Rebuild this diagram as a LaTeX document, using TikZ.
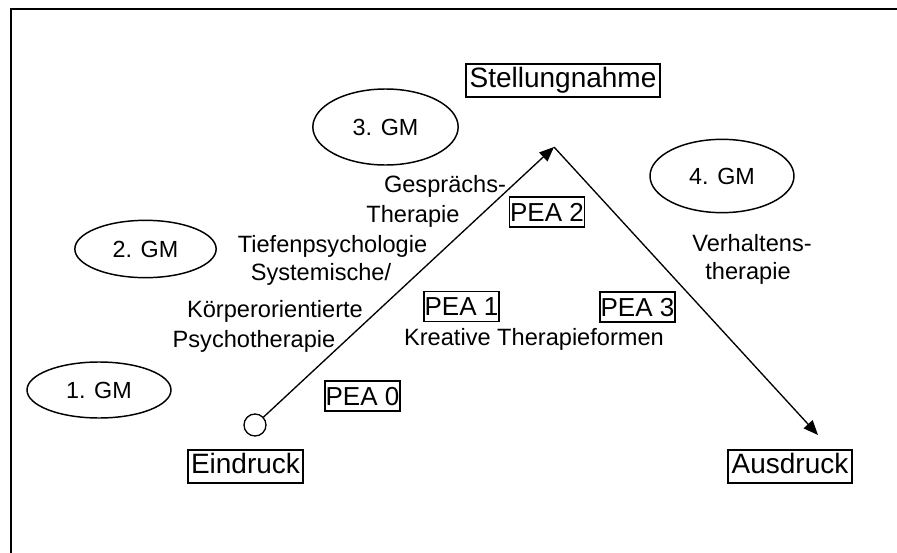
\documentclass[tikz,border=0pt]{standalone}
\usepackage{fontspec}
\setmainfont{Liberation Sans}
\usetikzlibrary{arrows.meta,shapes.geometric}
\begin{document}
\begin{tikzpicture}[x=0.75pt,y=-0.75pt,
  lbl/.style={draw,line width=1.5pt,font=\fontsize{21}{25}\selectfont,inner xsep=2.5pt,inner ysep=0pt,minimum height=25pt,text height=15.5pt,text depth=4.5pt},
  pea/.style={draw,line width=1.2pt,font=\fontsize{19.5}{23}\selectfont,inner sep=0pt,minimum width=56pt,minimum height=22.5pt,text height=14pt,text depth=0pt},
  gm/.style={draw,ellipse,line width=1.1pt,font=\fontsize{17.5}{21}\selectfont,inner sep=0pt},
  txt/.style={font=\fontsize{17.7}{21}\selectfont,anchor=base,inner sep=0pt},
  arr/.style={line width=1pt,-{Triangle[length=11pt,width=9pt]}},
]
\useasboundingbox (0,0) rectangle (897,553);
% frame (left and top edges only)
\draw[line width=1.5pt] (11,560) -- (11,9) -- (905,9);

% boxed labels
\node[lbl] (stell) at (563,80.5) {Stellungnahme};
\node[lbl] (ein) at (245.5,466.5) {Eindruck};
\node[lbl] (aus) at (790,466.5) {Ausdruck};

% PEA boxes
\node[pea] (pea0) at (362.5,396) {PEA 0};
\node[pea] (pea1) at (461.5,306.5) {PEA 1};
\node[pea] (pea2) at (547,212) {PEA 2};
\node[pea] (pea3) at (637.5,307) {PEA 3};

% ellipses
\node[gm,minimum width=109pt,minimum height=57pt] (gm3) at (385.5,127) {3. GM};
\node[gm,minimum width=108pt,minimum height=55pt] (gm4) at (722,176) {4. GM};
\node[gm,minimum width=106pt,minimum height=43pt] (gm2) at (145.5,249) {2. GM};
\node[gm,minimum width=108pt,minimum height=42pt] (gm1) at (99,390) {1. GM};

% texts
\node[txt] (t1) at (445,192) {Gesprächs-};
\node[txt] (t2) at (413,222) {Therapie};
\node[txt] (t3) at (332.5,252) {Tiefenpsychologie};
\node[txt] (t4) at (321,280) {Systemische/};
\node[txt] (t5) at (275,317) {Körperorientierte};
\node[txt] (t6) at (254,347) {Psychotherapie};
\node[txt] (t7) at (534,345) {Kreative Therapieformen};
\node[txt] (t8) at (752,251) {Verhaltens-};
\node[txt] (t9) at (748,279) {therapie};

% path
\node[circle,draw,line width=1pt,minimum size=16.5pt,inner sep=0pt] (start) at (255,425) {};
\coordinate (apex) at (554,147);
\coordinate (tip) at (818,435);
\draw[arr] (start) -- (apex);
\draw[arr] (apex) -- (tip);
\end{tikzpicture}
\end{document}
